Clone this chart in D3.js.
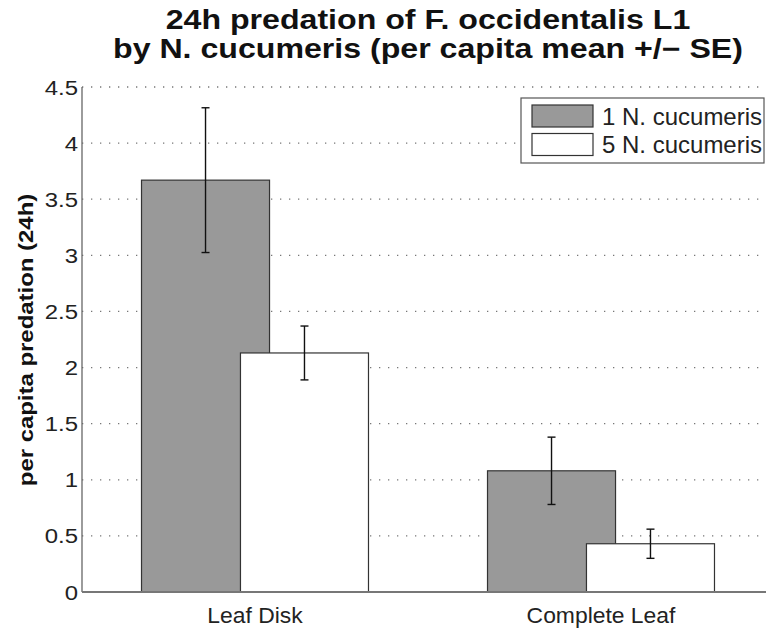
<!DOCTYPE html>
<html>
<head>
<meta charset="utf-8">
<script src="https://cdn.jsdelivr.net/npm/d3@7"></script>
<style>
  body { margin: 0; background: #fff; }
  svg { display: block; font-family: 'Liberation Sans', Arial, sans-serif; }
</style>
</head>
<body>
<script>
var groups = ['Leaf Disk', 'Complete Leaf'];
var seriesNames = ['1 N. cucumeris', '5 N. cucumeris'];
var seriesFill = ['#999999', '#ffffff'];
var mean1 = [3.67, 1.08];
var se1 = [0.645, 0.30];
var mean5 = [2.13, 0.43];
var se5 = [0.24, 0.13];
var yTicks = [0, 0.5, 1, 1.5, 2, 2.5, 3, 3.5, 4, 4.5];

var width = 766, height = 630;
var margins = {top: 87, left: 82, bottom: 38, right: -8};
var barW = 0.37, offset = 0.143;

var svg = d3.select('body').append('svg')
  .attr('width', width)
  .attr('height', height);

var x = d3.scaleLinear()
  .domain([0.5, 2.5])
  .range([margins.left, width - margins.right]);

var y = d3.scaleLinear()
  .domain([0, 4.5])
  .range([height - margins.bottom, margins.top]);

// dotted grid
svg.append('g')
  .selectAll('line')
  .data(yTicks.filter(function(d) { return d > 0; }))
  .enter().append('line')
  .attr('x1', x(0.5)).attr('x2', x(2.5))
  .attr('y1', function(d) { return y(d); })
  .attr('y2', function(d) { return y(d); })
  .attr('stroke', '#777')
  .attr('stroke-width', 1.3)
  .attr('stroke-dasharray', '1.3,7.7');

var series = [
  {name: seriesNames[0], fill: seriesFill[0], mean: mean1, se: se1, off: -offset},
  {name: seriesNames[1], fill: seriesFill[1], mean: mean5, se: se5, off: offset}
];

var bars = [];
series.forEach(function(s) {
  groups.forEach(function(g, i) {
    bars.push({g: i + 1, mean: s.mean[i], se: s.se[i], off: s.off, fill: s.fill});
  });
});

svg.append('g')
  .selectAll('rect')
  .data(bars)
  .enter().append('rect')
  .attr('x', function(d) { return x(d.g + d.off - barW / 2); })
  .attr('width', function(d) { return x(d.g + d.off + barW / 2) - x(d.g + d.off - barW / 2); })
  .attr('y', function(d) { return y(d.mean); })
  .attr('height', function(d) { return y(0) - y(d.mean); })
  .attr('fill', function(d) { return d.fill; })
  .attr('stroke', '#333')
  .attr('stroke-width', 1.2);

// error bars
var eb = svg.append('g')
  .attr('stroke', '#111')
  .attr('stroke-width', 1.4);

bars.forEach(function(d) {
  var cx = x(d.g + d.off);
  eb.append('line')
    .attr('x1', cx).attr('x2', cx)
    .attr('y1', y(d.mean + d.se)).attr('y2', y(d.mean - d.se));
  [d.mean + d.se, d.mean - d.se].forEach(function(v) {
    eb.append('line')
      .attr('x1', cx - 4).attr('x2', cx + 4)
      .attr('y1', y(v)).attr('y2', y(v));
  });
});

// axes lines
svg.append('line')
  .attr('x1', x(0.5)).attr('x2', x(0.5))
  .attr('y1', y(4.5)).attr('y2', y(0))
  .attr('stroke', '#666').attr('stroke-width', 1.3);
svg.append('line')
  .attr('x1', x(0.5)).attr('x2', x(2.5))
  .attr('y1', y(0)).attr('y2', y(0))
  .attr('stroke', '#777').attr('stroke-width', 2);

// y tick labels (slightly widened glyphs like the original export)
svg.append('g')
  .selectAll('text')
  .data(yTicks)
  .enter().append('text')
  .attr('transform', function(d) { return 'translate(' + (x(0.5) - 4) + ',' + y(d) + ') scale(1.14,1)'; })
  .attr('dy', '0.36em')
  .attr('text-anchor', 'end')
  .attr('font-size', 21)
  .attr('fill', '#222')
  .text(function(d) { return d; });

// x labels
svg.append('g')
  .selectAll('text')
  .data(groups)
  .enter().append('text')
  .attr('transform', function(d, i) { return 'translate(' + x(i + 1) + ',' + (y(0) + 31) + ') scale(1.04,1)'; })
  .attr('text-anchor', 'middle')
  .attr('font-size', 22)
  .attr('fill', '#222')
  .text(function(d) { return d; });

// y label
svg.append('text')
  .attr('transform', 'translate(33,' + 340 + ') rotate(-90) scale(1.14,1)')
  .attr('text-anchor', 'middle')
  .attr('font-size', 21)
  .attr('font-weight', 'bold')
  .attr('fill', '#111')
  .text('per capita predation (24h)');

// title
var title = svg.append('text')
  .attr('transform', 'translate(428,0) scale(1.19,1)')
  .attr('text-anchor', 'middle')
  .attr('font-size', 27)
  .attr('font-weight', 'bold')
  .attr('fill', '#111');
title.append('tspan').attr('x', 0).attr('y', 29).text('24h predation of F. occidentalis L1');
title.append('tspan').attr('x', 0).attr('y', 58).text('by N. cucumeris (per capita mean +/\u2212 SE)');

// legend
var legend = svg.append('g').attr('transform', 'translate(521,98)');
legend.append('rect')
  .attr('width', 243).attr('height', 65)
  .attr('fill', '#fff').attr('stroke', '#555').attr('stroke-width', 1.2);
var li = legend.selectAll('g.item')
  .data(series)
  .enter().append('g')
  .attr('class', 'item')
  .attr('transform', function(d, i) { return 'translate(11,' + (7 + i * 28.5) + ')'; });
li.append('rect')
  .attr('width', 61).attr('height', 22)
  .attr('fill', function(d) { return d.fill; })
  .attr('stroke', '#333').attr('stroke-width', 1.2);
li.append('text')
  .attr('x', 70).attr('y', 11)
  .attr('dy', '0.36em')
  .attr('font-size', 24)
  .attr('fill', '#222')
  .text(function(d) { return d.name; });
</script>
</body>
</html>
